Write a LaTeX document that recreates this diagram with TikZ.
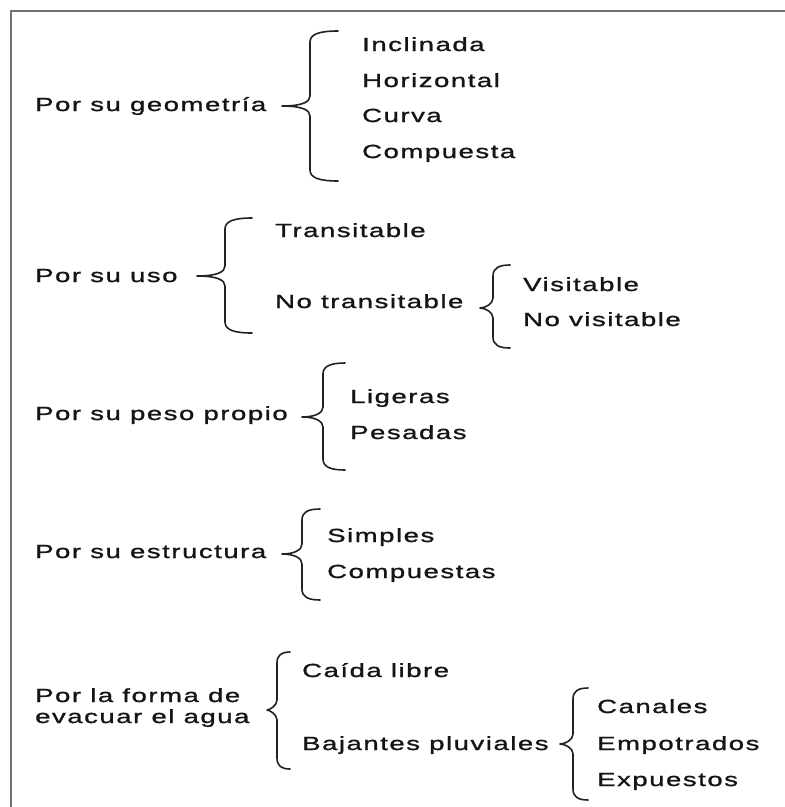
\documentclass[tikz,border=0pt]{standalone}
\usepackage{fontspec}
\setmainfont{Liberation Sans}[FakeStretch=1.45,LetterSpace=8,FakeBold=1.2]
\newcommand\curlybr[6]{%
  \draw[bracestyle] (#4,#5) .. controls ({#3+(#4-#3)*0.35},#5) and (#3,{#5+3}) .. (#3,{#5+11})
    -- (#3,{#2-10}) .. controls (#3,{#2-4}) and ({#3-8},#2) .. (#1,#2)
    .. controls ({#3-8},#2) and (#3,{#2+4}) .. (#3,{#2+10})
    -- (#3,{#6-11}) .. controls (#3,{#6-3}) and ({#3+(#4-#3)*0.35},#6) .. (#4,#6);}
\definecolor{framegray}{HTML}{707070}
\definecolor{bracegray}{HTML}{222222}
\definecolor{txt}{HTML}{151515}
\begin{document}
\begin{tikzpicture}[x=1pt,y=-1pt,
  lbl/.style={anchor=base west,inner sep=0pt,text=txt,font=\fontsize{19}{21}\selectfont},
  bracestyle/.style={draw=bracegray,line width=1.6pt,line cap=round,line join=round},
  framestyle/.style={draw=framegray,line width=1.4pt}]
\useasboundingbox (0,0) rectangle (785,807);
\fill[white] (0,0) rectangle (785,807);
\coordinate (ftl) at (11,11);
\coordinate (ftr) at (785,11);
\coordinate (fbl) at (11,807);
\draw[framestyle] (ftr) -- (ftl) -- (fbl);

% group 1
\node[lbl] (g1) at (35,111) {Por su geometría};
\curlybr{282}{106}{310}{338}{31}{181}
\node[lbl] (g1a) at (362,51) {Inclinada};
\node[lbl] (g1b) at (362,87) {Horizontal};
\node[lbl] (g1c) at (362,122) {Curva};
\node[lbl] (g1d) at (362,158) {Compuesta};

% group 2
\node[lbl] (g2) at (35,282) {Por su uso};
\curlybr{197}{276}{225}{252}{218}{333}
\node[lbl] (g2a) at (275,237) {Transitable};
\node[lbl] (g2b) at (275,308) {No transitable};
\curlybr{480}{308}{493}{510}{265}{348}
\node[lbl] (g2c) at (523,291) {Visitable};
\node[lbl] (g2d) at (523,326) {No visitable};

% group 3
\node[lbl] (g3) at (35,420) {Por su peso propio};
\curlybr{302}{417}{323}{345}{363}{470}
\node[lbl] (g3a) at (350,403) {Ligeras};
\node[lbl] (g3b) at (350,439) {Pesadas};

% group 4
\node[lbl] (g4) at (35,558) {Por su estructura};
\curlybr{282}{554}{302}{320}{509}{600}
\node[lbl] (g4a) at (327,542) {Simples};
\node[lbl] (g4b) at (327,578) {Compuestas};

% group 5
\node[lbl] (g5) at (35,702) {Por la forma de};
\node[lbl] (g5l2) at (35,723) {evacuar el agua};
\curlybr{267}{710}{277}{290}{652}{769}
\node[lbl] (g5a) at (302,677) {Caída libre};
\node[lbl] (g5b) at (302,750) {Bajantes pluviales};
\curlybr{560}{744}{573}{588}{688}{800}
\node[lbl] (g5c) at (597,713) {Canales};
\node[lbl] (g5d) at (597,750) {Empotrados};
\node[lbl] (g5e) at (597,786) {Expuestos};
\end{tikzpicture}
\end{document}
